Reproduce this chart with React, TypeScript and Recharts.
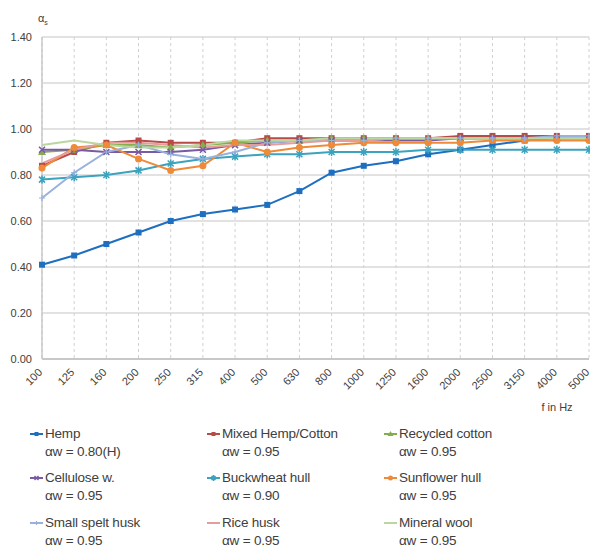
import { CartesianGrid, Line, LineChart, XAxis, YAxis } from "recharts";

document.body.style.margin = "0";

const freqs = ["100", "125", "160", "200", "250", "315", "400", "500", "630", "800", "1000", "1250", "1600", "2000", "2500", "3150", "4000", "5000"];
const yTicks = [0, 0.2, 0.4, 0.6, 0.8, 1.0, 1.2, 1.4];

const hemp = [0.41, 0.45, 0.5, 0.55, 0.6, 0.63, 0.65, 0.67, 0.73, 0.81, 0.84, 0.86, 0.89, 0.91, 0.93, 0.95, 0.96, 0.96];
const mixed = [0.84, 0.9, 0.94, 0.95, 0.94, 0.94, 0.94, 0.96, 0.96, 0.96, 0.96, 0.96, 0.96, 0.97, 0.97, 0.97, 0.97, 0.97];
const recycled = [0.9, 0.91, 0.93, 0.93, 0.92, 0.93, 0.94, 0.95, 0.95, 0.96, 0.96, 0.96, 0.96, 0.96, 0.96, 0.96, 0.96, 0.96];
const cellulose = [0.91, 0.91, 0.9, 0.9, 0.9, 0.91, 0.93, 0.94, 0.95, 0.95, 0.95, 0.95, 0.95, 0.96, 0.96, 0.96, 0.96, 0.96];
const buckwheat = [0.78, 0.79, 0.8, 0.82, 0.85, 0.87, 0.88, 0.89, 0.89, 0.9, 0.9, 0.9, 0.91, 0.91, 0.91, 0.91, 0.91, 0.91];
const sunflower = [0.83, 0.92, 0.93, 0.87, 0.82, 0.84, 0.94, 0.9, 0.92, 0.93, 0.94, 0.94, 0.94, 0.94, 0.95, 0.95, 0.95, 0.95];
const spelt = [0.7, 0.81, 0.9, 0.93, 0.89, 0.87, 0.9, 0.94, 0.95, 0.95, 0.95, 0.96, 0.96, 0.96, 0.96, 0.96, 0.97, 0.97];
const rice = [0.85, 0.91, 0.94, 0.94, 0.93, 0.92, 0.93, 0.93, 0.94, 0.95, 0.95, 0.96, 0.96, 0.96, 0.96, 0.96, 0.96, 0.96];
const mineral = [0.93, 0.95, 0.93, 0.92, 0.92, 0.93, 0.95, 0.95, 0.95, 0.96, 0.96, 0.96, 0.96, 0.96, 0.96, 0.96, 0.96, 0.96];

const seriesNames = ["Hemp", "Mixed Hemp/Cotton", "Recycled cotton", "Cellulose w.", "Buckwheat hull", "Sunflower hull", "Small spelt husk", "Rice husk", "Mineral wool"];
const ratings = ["αw = 0.80(H)", "αw = 0.95", "αw = 0.95", "αw = 0.95", "αw = 0.90", "αw = 0.95", "αw = 0.95", "αw = 0.95", "αw = 0.95"];

const series = [
  { key: "hemp", values: hemp, color: "#1E6FC0", shape: "square", width: 2 },
  { key: "mixed", values: mixed, color: "#B84A47", shape: "square", width: 2 },
  { key: "recycled", values: recycled, color: "#86AD4C", shape: "triangle", width: 2 },
  { key: "cellulose", values: cellulose, color: "#7A5AA3", shape: "cross", width: 2 },
  { key: "buckwheat", values: buckwheat, color: "#3BA3BE", shape: "star", width: 2 },
  { key: "sunflower", values: sunflower, color: "#EE8A38", shape: "circle", width: 2 },
  { key: "spelt", values: spelt, color: "#98B1DD", shape: "plus", width: 2 },
  { key: "rice", values: rice, color: "#E69C9A", shape: "none", width: 2 },
  { key: "mineral", values: mineral, color: "#B9D79E", shape: "none", width: 2 },
];

const data = freqs.map((f, i) => {
  const row: Record<string, any> = { f };
  series.forEach((s) => (row[s.key] = s.values[i]));
  return row;
});

const FONT = "'Liberation Sans', Arial, sans-serif";
const TEXT = "#404040";

function marker(shape: string, color: string, cx: number, cy: number, r = 3) {
  switch (shape) {
    case "square":
      return <rect x={cx - r} y={cy - r} width={r * 2} height={r * 2} fill={color} />;
    case "circle":
      return <circle cx={cx} cy={cy} r={r + 0.5} fill={color} />;
    case "triangle":
      return <polygon points={`${cx},${cy - r - 1} ${cx + r + 1},${cy + r} ${cx - r - 1},${cy + r}`} fill={color} />;
    case "cross":
      return (
        <path d={`M${cx - r},${cy - r}L${cx + r},${cy + r}M${cx - r},${cy + r}L${cx + r},${cy - r}`} stroke={color} strokeWidth={1.5} />
      );
    case "star":
      return (
        <path
          d={`M${cx - r},${cy - r}L${cx + r},${cy + r}M${cx - r},${cy + r}L${cx + r},${cy - r}M${cx},${cy - r - 1}L${cx},${cy + r + 1}`}
          stroke={color}
          strokeWidth={1.5}
        />
      );
    case "plus":
      return <path d={`M${cx - r},${cy}L${cx + r},${cy}M${cx},${cy - r}L${cx},${cy + r}`} stroke={color} strokeWidth={1.2} />;
    default:
      return null;
  }
}

const makeDot = (shape: string, color: string) => (props: any) => {
  const { cx, cy, index } = props;
  return <g key={`d-${index}`}>{marker(shape, color, cx, cy)}</g>;
};

const XTick = (props: any) => {
  const { x, y, payload } = props;
  return (
    <text
      transform={`translate(${x + 1},${y + 6}) rotate(-45)`}
      textAnchor="end"
      fontSize={11}
      fill={TEXT}
      fontFamily={FONT}
    >
      {payload.value}
    </text>
  );
};

function LegendBox() {
  const cols = [30, 207, 384];
  const rows = [425, 469, 514];
  return (
    <>
      {series.map((s, i) => (
        <div
          key={s.key}
          style={{
            position: "absolute",
            left: cols[i % 3],
            top: rows[Math.floor(i / 3)],
            fontFamily: FONT,
            fontSize: 13.5,
            lineHeight: "18px",
            color: TEXT,
            whiteSpace: "nowrap",
            letterSpacing: -0.2,
          }}
        >
          <div style={{ display: "flex", alignItems: "center" }}>
            <svg width={15} height={10}>
              <line x1={0} y1={5} x2={13} y2={5} stroke={s.color} strokeWidth={2} />
              {marker(s.shape, s.color, 6.5, 5, 2)}
            </svg>
            <span>{seriesNames[i]}</span>
          </div>
          <div style={{ paddingLeft: 15 }}>{ratings[i]}</div>
        </div>
      ))}
    </>
  );
}

export default function App() {
  return (
    <div style={{ position: "relative", width: 590, height: 548, background: "#fff", overflow: "hidden" }}>
      <LineChart width={590} height={548} data={data} margin={{ top: 37, right: 1, left: 0, bottom: 139 }}>
        <CartesianGrid horizontal vertical={false} stroke="#D9D9D9" strokeWidth={1.5} />
        <CartesianGrid horizontal={false} vertical stroke="#D0D0D0" strokeDasharray="3 3" />
        <XAxis
          dataKey="f"
          height={50}
          stroke="#C8C8C8"
          strokeWidth={2}
          tickLine={false}
          interval={0}
          tick={<XTick />}
          label={{
            content: () => (
              <text x={557} y={411} textAnchor="middle" fontSize={11} fill={TEXT} fontFamily={FONT}>
                f in Hz
              </text>
            ),
          }}
        />
        <YAxis
          width={42}
          domain={[0, 1.4]}
          ticks={yTicks}
          interval={0}
          stroke="#C8C8C8"
          strokeWidth={1.5}
          tickLine={false}
          tickFormatter={(v: number) => v.toFixed(2)}
          tick={{ fontSize: 11, fill: TEXT, fontFamily: FONT }}
          tickMargin={4}
          label={{
            content: () => (
              <text x={38} y={22} fontSize={11} fill={TEXT} fontFamily={FONT}>
                α<tspan fontSize={7} dy={3}>s</tspan>
              </text>
            ),
          }}
        />
        {series.map((s) => (
          <Line
            key={s.key}
            type="linear"
            dataKey={s.key}
            stroke={s.color}
            strokeWidth={s.width}
            dot={s.shape === "none" ? false : makeDot(s.shape, s.color)}
            activeDot={false}
            isAnimationActive={false}
          />
        ))}
      </LineChart>
      <LegendBox />
    </div>
  );
}
